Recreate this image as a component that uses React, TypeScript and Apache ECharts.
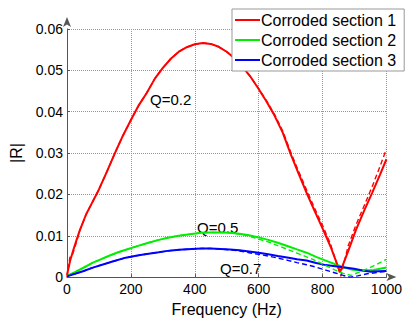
import React, { useEffect, useRef } from "react";
import * as echarts from "echarts";

// Frequency (Hz) / |R| readings — corroded section 1 (solid and dashed)
const s1Freq = [0, 10, 20, 30, 40, 60, 80, 100, 125, 150, 175, 200, 225, 250, 275, 300, 325, 350, 375, 400, 425, 450, 475, 500, 525, 550, 575, 600, 625, 650, 675, 700, 725, 750, 775, 800, 825, 855, 880, 904, 930, 956, 980, 1000];
const s1Val = [0.0005, 0.004, 0.0066, 0.009, 0.0113, 0.0152, 0.0182, 0.0212, 0.0255, 0.03, 0.0342, 0.038, 0.0416, 0.0446, 0.048, 0.0506, 0.0528, 0.0545, 0.0556, 0.0563, 0.0566, 0.0564, 0.0557, 0.0545, 0.0529, 0.0508, 0.0484, 0.0455, 0.0424, 0.039, 0.035, 0.0298, 0.025, 0.0204, 0.016, 0.0118, 0.0074, 0.0012, 0.0062, 0.0113, 0.016, 0.0205, 0.0248, 0.0285];
const s1dFreq = [0, 9, 16, 30, 40, 60, 80, 100, 125, 150, 175, 200, 225, 250, 275, 300, 325, 350, 375, 400, 425, 450, 475, 500, 525, 550, 575, 600, 625, 650, 675, 700, 725, 750, 775, 800, 825, 857, 880, 904, 930, 956, 980, 1000];
const s1dVal = [0, 0.0048, 0.0052, 0.0085, 0.0113, 0.0152, 0.0182, 0.0212, 0.0255, 0.03, 0.0342, 0.038, 0.0416, 0.0446, 0.048, 0.0506, 0.0528, 0.0545, 0.0556, 0.0563, 0.0566, 0.0564, 0.0557, 0.0545, 0.0529, 0.0508, 0.0484, 0.0456, 0.0426, 0.0393, 0.0354, 0.0303, 0.0256, 0.0211, 0.0167, 0.0125, 0.008, 0.0002, 0.0075, 0.0125, 0.0172, 0.022, 0.0268, 0.031];

// corroded section 2
const s2Freq = [0, 25, 50, 81, 100, 130, 160, 184, 220, 250, 287, 320, 350, 390, 420, 450, 480, 510, 540, 570, 600, 630, 660, 694, 720, 750, 780, 810, 840, 868, 895, 925, 960, 1000];
const s2Val = [0.0003, 0.0012, 0.0022, 0.0035, 0.0041, 0.0051, 0.006, 0.0066, 0.0075, 0.0082, 0.009, 0.0096, 0.01, 0.0104, 0.0107, 0.0108, 0.0108, 0.0107, 0.0105, 0.0101, 0.0096, 0.009, 0.0083, 0.0074, 0.0067, 0.0059, 0.0049, 0.004, 0.0031, 0.0023, 0.0018, 0.0016, 0.0017, 0.0023];
const s2dFreq = [0, 25, 50, 81, 100, 130, 160, 184, 220, 250, 287, 320, 350, 390, 420, 450, 480, 510, 540, 570, 600, 630, 660, 694, 720, 750, 780, 810, 840, 865, 889, 915, 940, 970, 1000];
const s2dVal = [0.0003, 0.0012, 0.0022, 0.0035, 0.0041, 0.0051, 0.006, 0.0066, 0.0075, 0.0082, 0.009, 0.0096, 0.01, 0.0104, 0.0107, 0.0108, 0.0108, 0.0107, 0.0104, 0.0099, 0.0092, 0.0085, 0.0076, 0.0066, 0.0058, 0.0049, 0.0039, 0.0028, 0.0017, 0.0009, 0.0004, 0.0012, 0.002, 0.0031, 0.0043];

// corroded section 3
const s3Freq = [0, 25, 50, 81, 110, 140, 184, 220, 250, 287, 320, 350, 390, 420, 450, 480, 510, 540, 570, 600, 630, 660, 694, 720, 750, 780, 810, 840, 870, 899, 925, 951, 975, 1000];
const s3Val = [0.0002, 0.0008, 0.0014, 0.0023, 0.003, 0.0037, 0.0047, 0.0052, 0.0056, 0.006, 0.0064, 0.0066, 0.0068, 0.0069, 0.0069, 0.0068, 0.0067, 0.0065, 0.0062, 0.0059, 0.0055, 0.0051, 0.0047, 0.0043, 0.004, 0.0034, 0.0029, 0.0026, 0.0023, 0.002, 0.0016, 0.0013, 0.0014, 0.0015];
const s3dFreq = [0, 25, 50, 81, 110, 140, 184, 220, 250, 287, 320, 350, 390, 420, 450, 480, 510, 540, 570, 600, 630, 660, 694, 720, 750, 780, 810, 840, 865, 886, 910, 940, 970, 1000];
const s3dVal = [0.0002, 0.0008, 0.0014, 0.0023, 0.003, 0.0037, 0.0047, 0.0052, 0.0056, 0.006, 0.0064, 0.0066, 0.0068, 0.0069, 0.0069, 0.0068, 0.0066, 0.0063, 0.0059, 0.0055, 0.0051, 0.0046, 0.004, 0.0035, 0.003, 0.0024, 0.0017, 0.001, 0.0004, 0.0, 0.0003, 0.0008, 0.0011, 0.0014];

const xTicks = [0, 200, 400, 600, 800, 1000];
const yTicks = [0, 0.01, 0.02, 0.03, 0.04, 0.05, 0.06];
const legendNames = ["Corroded section 1", "Corroded section 2", "Corroded section 3"];
const annotations = ["Q=0.2", "Q=0.5", "Q=0.7"];

const pairs = (f: number[], v: number[]) => f.map((x, i) => [x, v[i]]);

export default function App() {
  const ref = useRef<HTMLDivElement>(null);
  useEffect(() => {
    if (!ref.current) return;
    const chart = echarts.init(ref.current, undefined, { renderer: "svg" });
    const font = "Liberation Sans, Arial, sans-serif";
    const mk = (name: string, data: number[][], color: string, dashed: boolean) => ({
      type: "line",
      name,
      data,
      symbol: "none",
      showSymbol: false,
      smooth: false,
      lineStyle: { color, width: dashed ? 1.4 : 2, type: dashed ? [5, 3] : "solid" },
      itemStyle: { color },
      z: dashed ? 3 : 2,
    });
    chart.setOption({
      animation: false,
      textStyle: { fontFamily: font },
      grid: { left: 67, right: 14, top: 29, bottom: 37 },
      xAxis: {
        type: "value",
        min: xTicks[0],
        max: xTicks[xTicks.length - 1],
        interval: 200,
        name: "Frequency (Hz)",
        nameLocation: "middle",
        nameGap: 19,
        nameTextStyle: { fontSize: 16, color: "#000", fontFamily: font },
        axisLine: { show: true, lineStyle: { color: "#555", width: 1 }, symbol: ["none", "arrow"], symbolSize: [6, 10], symbolOffset: [0, 10] },
        axisTick: { show: true, inside: true, length: 3, lineStyle: { color: "#555" } },
        axisLabel: { fontSize: 14, color: "#000", margin: 5, fontFamily: font, formatter: (v: number) => String(v) },
        splitLine: { show: true, lineStyle: { type: "dotted", color: "#999", width: 1 } },
      },
      yAxis: {
        type: "value",
        min: yTicks[0],
        max: yTicks[yTicks.length - 1],
        interval: 0.01,
        name: "|R|",
        nameLocation: "middle",
        nameGap: 37,
        nameRotate: 90,
        nameTextStyle: { fontSize: 16, color: "#000", fontFamily: font },
        axisLine: { show: true, lineStyle: { color: "#555", width: 1 }, symbol: ["none", "arrow"], symbolSize: [6, 10], symbolOffset: [0, 12] },
        axisTick: { show: true, inside: true, length: 3, lineStyle: { color: "#555" } },
        axisLabel: { fontSize: 14, color: "#000", margin: 4, fontFamily: font, formatter: (v: number) => String(v) },
        splitLine: { show: true, lineStyle: { type: "dotted", color: "#999", width: 1 } },
      },
      legend: {
        data: legendNames,
        orient: "vertical",
        left: 232,
        top: 9,
        padding: [3, 8, 3, 3],
        icon: "rect",
        itemWidth: 25,
        itemHeight: 2,
        itemGap: 4,
        backgroundColor: "#fff",
        borderColor: "#999",
        borderWidth: 1,
        borderRadius: 0,
        textStyle: { fontSize: 16, lineHeight: 16, color: "#000", fontFamily: font, padding: [0, 0, 0, -4] },
      },
      graphic: [
        { type: "text", left: 150, top: 92, style: { text: annotations[0], fontSize: 15, fill: "#000", fontFamily: font } },
        { type: "text", left: 197, top: 220, style: { text: annotations[1], fontSize: 15, fill: "#000", fontFamily: font } },
        { type: "text", left: 220, top: 261, style: { text: annotations[2], fontSize: 15, fill: "#000", fontFamily: font } },
      ],
      series: [
        mk(legendNames[0], pairs(s1Freq, s1Val), "#ff0000", false),
        mk(legendNames[1], pairs(s2Freq, s2Val), "#00ee00", false),
        mk(legendNames[2], pairs(s3Freq, s3Val), "#0000ff", false),
        mk("s1 dashed", pairs(s1dFreq, s1dVal), "#ff0000", true),
        mk("s2 dashed", pairs(s2dFreq, s2dVal), "#00ee00", true),
        mk("s3 dashed", pairs(s3dFreq, s3dVal), "#0000ff", true),
      ],
    });
    return () => chart.dispose();
  }, []);
  return <div ref={ref} style={{ position: "fixed", left: 0, top: 0, width: 405, height: 322, background: "#fff" }} />;
}
